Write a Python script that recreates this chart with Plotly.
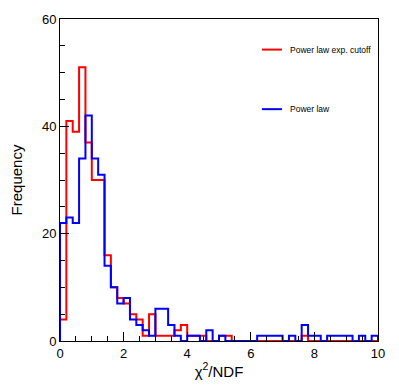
import plotly.graph_objects as go

# histogram: 50 bins of width 0.2 on [0, 10]
bin_width = 0.2
n_bins = 50

power_law_exp_cutoff = [4, 41, 39, 51, 37, 30, 30, 16, 10, 8,
                        7, 5, 4, 1, 5, 1, 1, 1, 2, 3,
                        1, 1, 1, 0, 0, 1, 1, 0, 0, 0,
                        0, 0, 0, 0, 0, 0, 0, 0, 1, 0,
                        0, 0, 0, 0, 0, 0, 0, 0, 0, 0]

power_law = [22, 23, 22, 34, 42, 34, 31, 14, 10, 7,
             8, 4, 3, 2, 1, 6, 6, 3, 1, 0,
             1, 1, 0, 2, 0, 1, 0, 0, 0, 0,
             0, 1, 1, 1, 1, 0, 1, 0, 3, 1,
             1, 0, 1, 1, 1, 1, 0, 1, 0, 1]

edges = [round(i * bin_width, 2) for i in range(n_bins + 1)]


def outline(counts):
    # ROOT-style histogram outline: up from zero, steps, back down at the end
    xs = [edges[0]] + edges + [edges[-1]]
    ys = [0] + counts + [counts[-1], 0]
    return xs, ys


fig = go.Figure()

x1, y1 = outline(power_law_exp_cutoff)
fig.add_trace(go.Scatter(x=x1, y=y1, mode='lines', line_shape='hv',
                         line=dict(color='#ff0000', width=2),
                         name='Power law exp. cutoff', showlegend=False))

x2, y2 = outline(power_law)
fig.add_trace(go.Scatter(x=x2, y=y2, mode='lines', line_shape='hv',
                         line=dict(color='#0000ff', width=2),
                         name='Power law', showlegend=False))

# legend drawn by hand, ROOT TLegend style
legend_items = [('Power law exp. cutoff', '#ff0000', 0.905),
                ('Power law', '#0000ff', 0.720)]
for label, color, ypos in legend_items:
    fig.add_shape(type='line', xref='paper', yref='paper',
                  x0=0.635, x1=0.698, y0=ypos, y1=ypos,
                  line=dict(color=color, width=2))
    fig.add_annotation(xref='paper', yref='paper', x=0.717, y=ypos,
                       text=label, showarrow=False, xanchor='left',
                       yanchor='middle', font=dict(size=8.5, color='black'))

axis_common = dict(
    showgrid=False, zeroline=False,
    showline=True, linecolor='black', linewidth=1, mirror=True,
    ticks='inside', ticklen=9, tickcolor='black', tickwidth=1,
    tickfont=dict(size=13, color='black'),
    automargin=False,
)

# page has an 8px body margin, so the figure is 16px smaller than the window
fig.update_layout(
    width=383, height=372,
    margin=dict(l=52, r=13, t=11, b=39),
    paper_bgcolor='white', plot_bgcolor='white',
    font=dict(family='Liberation Sans, Arial, sans-serif', color='black'),
    xaxis=dict(range=[0, 10], dtick=2,
               minor=dict(dtick=0.5, ticks='inside', ticklen=5, tickcolor='black'),
               title=dict(text='χ<sup>2</sup>/NDF', font=dict(size=15), standoff=6),
               **axis_common),
    yaxis=dict(range=[0, 60], dtick=20,
               minor=dict(dtick=5, ticks='inside', ticklen=5, tickcolor='black'),
               title=dict(text='Frequency', font=dict(size=15), standoff=15),
               **axis_common),
)

fig.write_html("out.html")
